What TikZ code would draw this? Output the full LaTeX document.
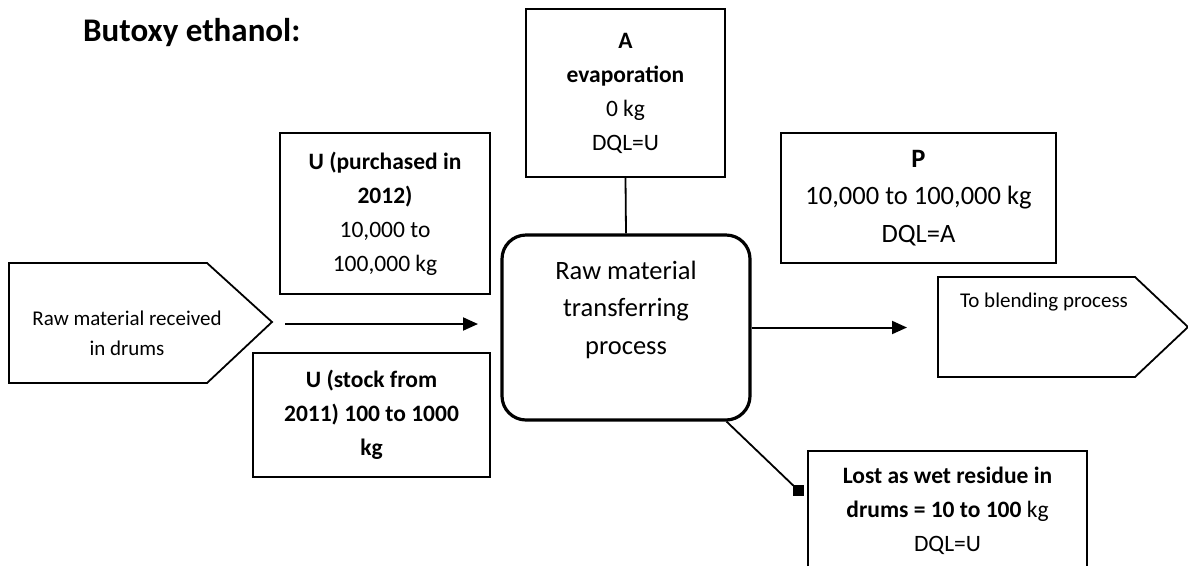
\documentclass[tikz,border=0pt]{standalone}
\usepackage{fontspec}
\setmainfont{Carlito}
\usetikzlibrary{arrows.meta,calc}
\newcommand\smallfont{\fontsize{21}{30}\selectfont}
\newcommand\boxfont{\fontsize{23.5}{34}\selectfont}
\newcommand\bigfont{\fontsize{26.5}{37.5}\selectfont}
\begin{document}
\begin{tikzpicture}[x=1pt,y=-1pt,
  box/.style={draw,line width=1.8pt,inner sep=0pt,align=center},
  proc/.style={draw,line width=3.2pt,rounded corners=24pt,inner sep=0pt},
  tag/.style={align=center,inner sep=0pt},
  flow/.style={line width=2pt,-{Triangle[length=15pt,width=13pt]}},
  link/.style={line width=1.8pt},
  outline/.style={line width=1.8pt,line join=miter}]
\useasboundingbox (0,0) rectangle (1188,566);

% heading
\node[anchor=base west,inner sep=0pt,font=\fontsize{33}{40}\selectfont\bfseries] (title) at (83,41) {Butoxy ethanol:};

% incoming material (arrow-shaped outline)
\draw[outline] (9,263) -- (207,263) -- (272,322) -- (207,383) -- (9,383) -- cycle;
\node[tag,font=\smallfont] (src) at (127,333) {Raw material received\\in drums};

% outgoing material (arrow-shaped outline)
\draw[outline] (938,277) -- (1135,277) -- (1188,327) -- (1135,377) -- (938,377) -- cycle;
\node[tag,font=\smallfont] (dst) at (1044,302) {To blending process};

% central process
\node[proc,minimum width=248pt,minimum height=185pt] (proc) at (626,327.5) {};
\node[tag,font=\bigfont] (proctxt) at (626,309.5) {Raw material\\transferring\\process};

% input quantities
\node[box,font=\boxfont,minimum width=210pt,minimum height=161pt] (upur) at (385,213.5)
  {\textbf{U (purchased in}\\\textbf{2012)}\\10,000 to\\100,000 kg};
\node[box,font=\boxfont,minimum width=237pt,minimum height=124pt] (ustock) at (371.5,415)
  {\textbf{U (stock from}\\\textbf{2011) 100 to 1000}\\\textbf{kg}};

% evaporation
\node[box,font=\boxfont,minimum width=199pt,minimum height=168pt] (evap) at (625.5,93)
  {\textbf{A}\\\textbf{evaporation}\\0 kg\\DQL=U};

% product
\node[box,font=\bigfont,minimum width=275pt,minimum height=130pt] (prod) at (918.5,198)
  {\textbf{P}\\10,000 to 100,000 kg\\DQL=A};

% residue (box runs off the lower edge)
\draw[outline] (808,566) -- (808,451) -- (1087,451) -- (1087,566);
\node[tag,font=\boxfont] (loss) at (947.5,511)
  {\textbf{Lost as wet residue in}\\\textbf{drums = 10 to 100} kg\\DQL=U};
\node[fill=black,minimum size=11pt,inner sep=0pt] (lossend) at (798.5,490.5) {};

% connectors
\coordinate (inS) at (285,324);
\coordinate (inE) at (478,324);
\coordinate (outE) at (907,327.5);
\draw[flow] (inS) -- (inE);
\draw[flow] (proc.east) -- (outE);
\draw[link] (evap.south) -- (proc.north);
\draw[link] ($(proc.south east)+(-25,0)$) -- (lossend.center);
\end{tikzpicture}
\end{document}
